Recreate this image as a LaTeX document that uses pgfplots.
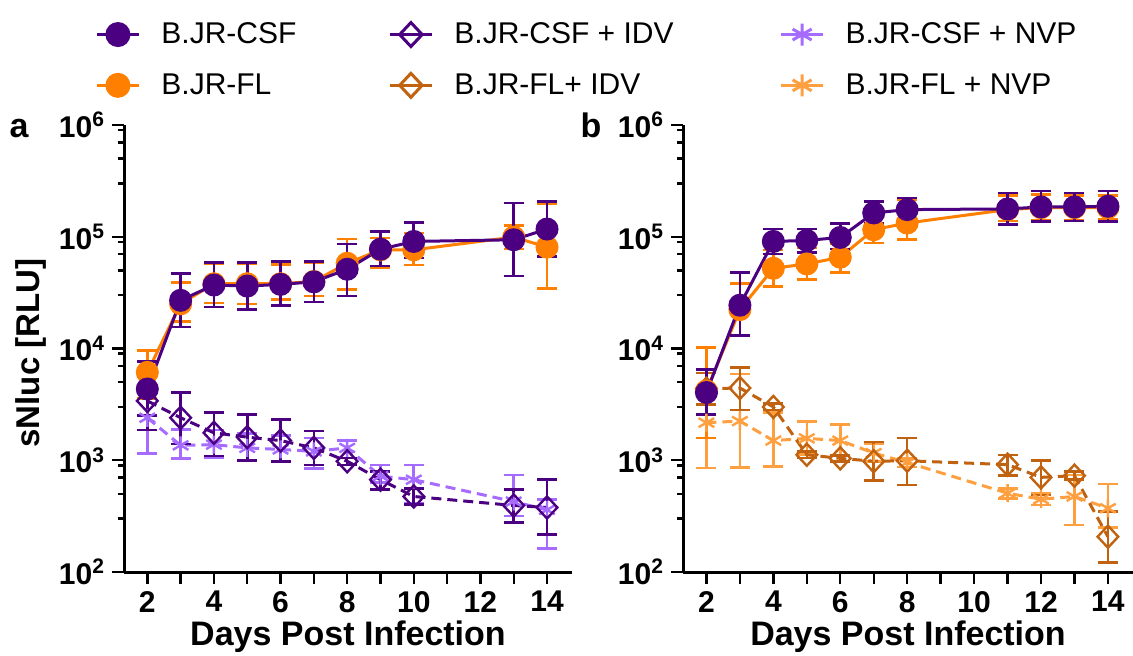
\documentclass[border=0pt]{standalone}
\usepackage{fontspec}
\setmainfont{Liberation Sans}
\usepackage{pgfplots}
\usepackage{pgfplotstable}
\pgfplotsset{compat=1.18}
\definecolor{cCSF}{HTML}{4B0082}
\definecolor{cFL}{HTML}{FF8000}
\definecolor{cCSFn}{HTML}{A66BFF}
\definecolor{cFLi}{HTML}{C0620F}
\definecolor{cFLn}{HTML}{FFA040}

\pgfplotstableread{
x y top bot
2 4340 7690 2510
3 27000 47100 15600
4 37000 58600 23600
5 36200 58600 22300
6 37500 60300 24400
7 39500 60300 26100
8 51200 85900 29600
9 77400 111700 54800
10 90800 134600 64300
13 94000 201000 44600
14 117200 205600 66500
}\aCSF
\pgfplotstableread{
x y top bot
2 6120 9590 3550
3 25100 38900 17400
4 38000 57100 25600
5 38000 57100 25100
6 38000 56800 27500
7 39800 58900 29600
8 57900 95500 33800
9 76400 97700 53000
10 76400 107900 56000
13 99300 125900 77400
14 80700 199500 34500
}\aFL
\pgfplotstableread{
x y top bot
2 3400 5620 1860
3 2400 4040 1400
4 1760 2670 1090
5 1610 2580 990
6 1500 2330 970
7 1290 1820 910
8 980 1050 910
9 670 794 545
10 474 556 404
13 394 545 278
14 378 670 217
}\aCSFi
\pgfplotstableread{
x y top bot
2 2400 4170 1150
3 1360 1890 1040
4 1380 1860 1050
5 1290 1740 1000
6 1250 1660 980
7 1200 1585 840
8 1290 1500 1050
9 720 910 630
10 670 910 412
13 427 741 316
14 360 447 162
}\aCSFn
\pgfplotstableread{
x y top bot
2 4040 6460 2570
3 24400 47900 13100
4 90800 117200 70300
5 92700 117200 72400
6 98600 131800 77400
7 163300 205600 131800
8 175000 222800 142200
11 177400 245500 128200
12 184900 257000 137400
13 184900 245500 138000
14 187500 257000 137400
}\bCSF
\pgfplotstableread{
x y top bot
2 4170 10200 1580
3 22300 38300 13200
4 52200 76400 35700
5 57100 79400 41600
6 65600 87100 47600
7 115600 158500 87700
8 132700 213800 94000
11 175000 234400 138000
12 182000 239900 141300
13 182000 234400 141300
14 182000 234400 144200
}\bFL
\pgfplotstableread{
x y top bot
2 4370 6030 3160
3 4430 6760 2810
4 3000 3240 2820
5 1120 1200 1050
6 1040 1100 980
7 980 1460 656
8 990 1580 600
11 914 1110 733
12 703 993 490
13 728 794 676
14 207 347 121
}\bFLi
\pgfplotstableread{
x y top bot
2 2170 3980 850
3 2240 5890 865
4 1500 2690 883
5 1570 2210 1120
6 1500 2090 1100
7 1160 1410 980
8 955 1050 870
11 507 562 457
12 448 501 398
13 474 741 263
14 372 612 251
}\bFLn

\pgfplotsset{
  legend image code/.code={\draw[mark repeat=2,mark phase=2,#1] plot coordinates {(0pt,0pt) (10.5pt,0pt) (21pt,0pt)};},
  mySer/.style={line width=1.5pt, color=#1, mark size=5pt, mark options={solid},
    error bars/y dir=both, error bars/y explicit,
    error bars/error bar style={line width=1.3pt, solid},
    error bars/error mark options={rotate=90, mark size=5pt, line width=1.3pt, solid}},
  myDash/.style={dash pattern=on 5pt off 3pt},
  myDia/.style={mark=diamond, mark size=5.5pt, mark options={solid, fill=white, line width=1.2pt, xscale=1.25}},
  myStar/.style={mark=asterisk, mark size=4.5pt, mark options={solid, line width=1.2pt}},
}

\begin{document}
\begin{tikzpicture}
\useasboundingbox (0,0) rectangle (566.5pt,327.5pt);
\begin{axis}[at={(62pt,41.5pt)}, anchor=south west, width=224pt,
    scale only axis, height=223.5pt,
    ymode=log, ymin=100, ymax=1e6, xmin=1.3, xmax=14.75,
    axis x line*=bottom, axis y line*=left,
    axis line style={line width=1.5pt,-},
    tick align=outside, major tick length=6pt, minor tick length=3pt,
    every tick/.style={black, line width=1.2pt},
    xtick={2,...,14}, xticklabels={2,,4,,6,,8,,10,,12,,14},
    ytick={1e2,1e3,1e4,1e5,1e6},
    yticklabels={10\textsuperscript{2},10\textsuperscript{3},10\textsuperscript{4},10\textsuperscript{5},10\textsuperscript{6}},
    minor ytick={300,500,700,900,3000,5000,7000,9000,30000,50000,70000,90000,300000,500000,700000,900000},
    xticklabel style={font=\fontsize{15}{15}\selectfont\bfseries},
    yticklabel style={font=\fontsize{15}{15}\selectfont\bfseries},
    xlabel={Days Post Infection},
    xlabel style={font=\fontsize{17}{17}\selectfont\bfseries, at={(axis description cs:0.5,-0.145)}, anchor=center},
    clip=false,
  ylabel={sNluc [RLU]},
  ylabel style={font=\fontsize{16.5}{16.5}\selectfont\bfseries, at={(axis description cs:-0.2076,0.49)}, anchor=center},
  legend columns=3,
  legend cell align=left,
  legend style={at={(axis description cs:-0.0647,1.239)}, anchor=north west, draw=none, fill=none,
    inner sep=0pt, font=\fontsize{15}{15}\selectfont, row sep=9.5pt,
    /tikz/column 1/.style={column sep=8.5pt},
    /tikz/column 2/.style={column sep=44pt},
    /tikz/column 3/.style={column sep=8.5pt},
    /tikz/column 4/.style={column sep=51pt},
    /tikz/column 5/.style={column sep=8.5pt}},
]
\addlegendimage{line width=1.5pt, color=cCSF, mark=*, mark size=5.5pt}
\addlegendentry{B.JR-CSF}
\addlegendimage{line width=1.5pt, color=cCSF, mark=diamond, mark size=6pt, mark options={fill=white, xscale=1.25}}
\addlegendentry{B.JR-CSF + IDV}
\addlegendimage{line width=1.5pt, color=cCSFn, mark=asterisk, mark size=5.5pt}
\addlegendentry{B.JR-CSF + NVP}
\addlegendimage{line width=1.5pt, color=cFL, mark=*, mark size=5.5pt}
\addlegendentry{B.JR-FL}
\addlegendimage{line width=1.5pt, color=cFLi, mark=diamond, mark size=6pt, mark options={fill=white, xscale=1.25}}
\addlegendentry{B.JR-FL+ IDV}
\addlegendimage{line width=1.5pt, color=cFLn, mark=asterisk, mark size=5.5pt}
\addlegendentry{B.JR-FL + NVP}

\addplot[mySer=cCSFn, myDash, myStar, forget plot] table[x=x, y=y, y error plus expr=\thisrow{top}-\thisrow{y}, y error minus expr=\thisrow{y}-\thisrow{bot}] {\aCSFn};
\addplot[mySer=cCSF, myDash, myDia, forget plot] table[x=x, y=y, y error plus expr=\thisrow{top}-\thisrow{y}, y error minus expr=\thisrow{y}-\thisrow{bot}] {\aCSFi};
\addplot[mySer=cFL, mark=*, forget plot] table[x=x, y=y, y error plus expr=\thisrow{top}-\thisrow{y}, y error minus expr=\thisrow{y}-\thisrow{bot}] {\aFL};
\addplot[mySer=cCSF, mark=*, forget plot] table[x=x, y=y, y error plus expr=\thisrow{top}-\thisrow{y}, y error minus expr=\thisrow{y}-\thisrow{bot}] {\aCSF};
\end{axis}

\begin{axis}[at={(341.5pt,41.5pt)}, anchor=south west, width=225pt,
    scale only axis, height=223.5pt,
    ymode=log, ymin=100, ymax=1e6, xmin=1.3, xmax=14.75,
    axis x line*=bottom, axis y line*=left,
    axis line style={line width=1.5pt,-},
    tick align=outside, major tick length=6pt, minor tick length=3pt,
    every tick/.style={black, line width=1.2pt},
    xtick={2,...,14}, xticklabels={2,,4,,6,,8,,10,,12,,14},
    ytick={1e2,1e3,1e4,1e5,1e6},
    yticklabels={10\textsuperscript{2},10\textsuperscript{3},10\textsuperscript{4},10\textsuperscript{5},10\textsuperscript{6}},
    minor ytick={300,500,700,900,3000,5000,7000,9000,30000,50000,70000,90000,300000,500000,700000,900000},
    xticklabel style={font=\fontsize{15}{15}\selectfont\bfseries},
    yticklabel style={font=\fontsize{15}{15}\selectfont\bfseries},
    xlabel={Days Post Infection},
    xlabel style={font=\fontsize{17}{17}\selectfont\bfseries, at={(axis description cs:0.5,-0.145)}, anchor=center},
    clip=false]
\addplot[mySer=cFLn, myDash, myStar] table[x=x, y=y, y error plus expr=\thisrow{top}-\thisrow{y}, y error minus expr=\thisrow{y}-\thisrow{bot}] {\bFLn};
\addplot[mySer=cFLi, myDash, myDia] table[x=x, y=y, y error plus expr=\thisrow{top}-\thisrow{y}, y error minus expr=\thisrow{y}-\thisrow{bot}] {\bFLi};
\addplot[mySer=cFL, mark=*] table[x=x, y=y, y error plus expr=\thisrow{top}-\thisrow{y}, y error minus expr=\thisrow{y}-\thisrow{bot}] {\bFL};
\addplot[mySer=cCSF, mark=*] table[x=x, y=y, y error plus expr=\thisrow{top}-\thisrow{y}, y error minus expr=\thisrow{y}-\thisrow{bot}] {\bCSF};
\end{axis}

\node[font=\fontsize{17}{17}\selectfont\bfseries, anchor=base] at (9.5pt,259pt) {a};
\node[font=\fontsize{17}{17}\selectfont\bfseries, anchor=base] at (295.5pt,259pt) {b};
\end{tikzpicture}
\end{document}
